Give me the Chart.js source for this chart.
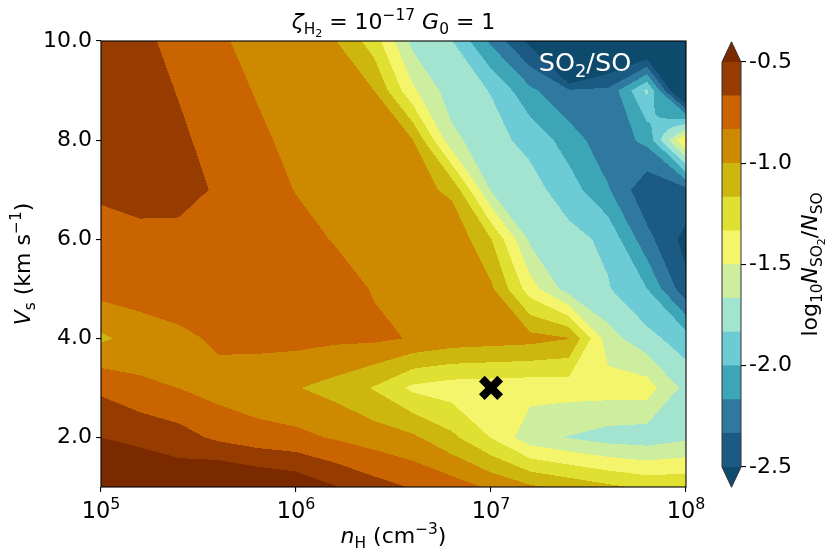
<!DOCTYPE html>
<html>
<head>
<meta charset="utf-8">
<script src="https://cdn.jsdelivr.net/npm/chart.js@4.4.1/dist/chart.umd.min.js"></script>
<style>
  html, body { margin: 0; padding: 0; background: #fff; }
  #wrap { position: relative; width: 830px; height: 556px; }
  #contour { position: absolute; left: 0; top: 0; }
  #colorbar { position: absolute; left: 700px; top: 0; }
</style>
</head>
<body>
<div id="wrap">
  <canvas id="contour" width="830" height="556"></canvas>
  <canvas id="colorbar" width="130" height="556"></canvas>
</div>
<script>
// model grid: log10 nH (columns) and shock velocity in km/s (rows)
var logNH = [5.0, 5.2, 5.4, 5.6, 5.8, 6.0, 6.2, 6.4, 6.6, 6.8, 7.0, 7.2, 7.4, 7.6, 7.8, 8.0];
var vShock = [1, 2, 3, 4, 5, 6, 7, 8, 9, 10];

// log10 N(SO2)/N(SO), one row per shock velocity
var ratioV1  = [-0.35, -0.38, -0.36, -0.26, -0.32, -0.37, -0.49, -0.60, -0.68, -0.75, -0.86, -0.97, -1.05, -1.13, -1.20, -1.20];
var ratioV2  = [-0.50, -0.53, -0.60, -0.70, -0.76, -0.79, -0.85, -0.91, -0.97, -1.13, -1.34, -1.60, -1.675, -1.74, -1.76, -1.70];
var ratioV3  = [-0.70, -0.80, -0.835, -0.90, -0.95, -0.99, -1.06, -1.18, -1.37, -1.42, -1.43, -1.44, -1.43, -1.42, -1.42, -1.72];
var ratioV4  = [-1.03, -0.93, -0.88, -0.80, -0.78, -0.78, -0.80, -0.80, -0.845, -0.90, -0.92, -0.94, -0.995, -1.60, -1.78, -1.92];
var ratioV5  = [-0.77, -0.75, -0.71, -0.70, -0.70, -0.72, -0.76, -0.845, -0.88, -0.92, -0.97, -1.42, -1.75, -1.82, -2.00, -2.45];
var ratioV6  = [-0.72, -0.70, -0.69, -0.70, -0.72, -0.77, -0.845, -0.88, -0.91, -0.86, -1.16, -1.70, -1.78, -1.87, -2.28, -2.56];
var ratioV7  = [-0.643, -0.62, -0.637, -0.676, -0.75, -0.84, -0.88, -0.92, -0.93, -1.04, -1.68, -1.77, -1.92, -2.15, -2.46, -2.38];
var ratioV8  = [-0.58, -0.60, -0.64, -0.72, -0.80, -0.88, -0.92, -0.96, -1.00, -1.62, -1.78, -1.88, -2.08, -2.28, -2.12, -1.30];
var ratioV9  = [-0.57, -0.60, -0.675, -0.76, -0.845, -0.90, -0.95, -1.00, -1.47, -1.76, -1.84, -2.13, -2.31, -2.30, -1.80, -2.95];
var ratioV10 = [-0.58, -0.63, -0.715, -0.80, -0.905, -0.95, -0.99, -1.25, -1.72, -1.83, -2.20, -2.55, -3.70, -2.90, -2.90, -3.00];
var ratioRows = [ratioV1, ratioV2, ratioV3, ratioV4, ratioV5, ratioV6, ratioV7, ratioV8, ratioV9, ratioV10];

// contour levels and colours (low to high)
var levels = [-2.5, -2.3333, -2.1667, -2.0, -1.8333, -1.6667, -1.5, -1.3333, -1.1667, -1.0, -0.8333, -0.6667, -0.5];
var levelColors = ['#1b5a83', '#2f78a0', '#3da6b6', '#6ccbd4', '#a2e4d0', '#ccee9e',
                   '#f5f56b', '#e0e032', '#cdb70f', '#cd8a00', '#c96400', '#963c00'];
var underColor = '#0e4a6c';
var overColor = '#7b2a00';

var xTicks = [1e5, 1e6, 1e7, 1e8];
var xTickExp = ['5', '6', '7', '8'];
var yTicks = [2, 4, 6, 8, 10];
var cbTicks = [-2.5, -2.0, -1.5, -1.0, -0.5];
var fiducial = [{x: 1e7, y: 3}];

var FONT = '"DejaVu Sans"';

function fontOf(size, italic) {
    return (italic ? 'italic ' : '') + size + 'px ' + FONT;
}

// parts: [text, size, italic, raise]
function drawRich(ctx, parts, x, y) {
    var total = 0;
    ctx.textAlign = 'left';
    ctx.textBaseline = 'alphabetic';
    parts.forEach(function (p) {
        ctx.font = fontOf(p[1], p[2]);
        p.w = ctx.measureText(p[0]).width;
        total += p.w;
    });
    var cx = x - total / 2;
    parts.forEach(function (p) {
        ctx.font = fontOf(p[1], p[2]);
        ctx.fillText(p[0], cx, y - (p[3] || 0));
        cx += p.w;
    });
}

function hexToRgb(h) {
    return [parseInt(h.substr(1, 2), 16), parseInt(h.substr(3, 2), 16), parseInt(h.substr(5, 2), 16)];
}

function locate(arr, v) {
    var k = 0;
    while (k < arr.length - 2 && v > arr[k + 1]) k++;
    var t = (v - arr[k]) / (arr[k + 1] - arr[k]);
    return {k: k, t: Math.max(0, Math.min(1, t))};
}

// marching squares: for each cell and level, a straight cut between edge crossings
function cellCuts(a, b, c, d) {
    // corners: a (0,0) b (1,0) c (0,1) d (1,1)
    var corners = [[0, 0, a], [1, 0, b], [1, 1, d], [0, 1, c]];
    return levels.map(function (L) {
        var pts = [];
        for (var e = 0; e < 4; e++) {
            var p = corners[e], q = corners[(e + 1) % 4];
            if ((p[2] > L) !== (q[2] > L)) {
                var t = (L - p[2]) / (q[2] - p[2]);
                pts.push([p[0] + t * (q[0] - p[0]), p[1] + t * (q[1] - p[1])]);
            }
        }
        if (pts.length === 0) return {mode: a > L ? 1 : 0};
        if (pts.length === 2) {
            var top = corners.reduce(function (m, k) { return k[2] > m[2] ? k : m; });
            var A = pts[1][0] - pts[0][0], B = pts[1][1] - pts[0][1];
            var s = A * (top[1] - pts[0][1]) - B * (top[0] - pts[0][0]);
            if (s !== 0) return {mode: 2, x0: pts[0][0], y0: pts[0][1], A: A, B: B, s: s > 0 ? 1 : -1};
        }
        return {mode: 3, L: L};
    });
}

var contourPlugin = {
    id: 'contourFill',
    beforeDatasetsDraw: function (chart) {
        var ctx = chart.ctx, a = chart.chartArea;
        var xs = chart.scales.x, ys = chart.scales.y;
        var dpr = chart.currentDevicePixelRatio || 1;
        var w = Math.round((a.right - a.left) * dpr);
        var h = Math.round((a.bottom - a.top) * dpr);
        var off = document.createElement('canvas');
        off.width = w;
        off.height = h;
        var octx = off.getContext('2d');
        var img = octx.createImageData(w, h);
        var palette = [underColor].concat(levelColors, [overColor]).map(hexToRgb);
        var cuts = [];
        for (var r = 0; r < vShock.length - 1; r++) {
            cuts.push([]);
            for (var q = 0; q < logNH.length - 1; q++) {
                cuts[r].push(cellCuts(ratioRows[r][q], ratioRows[r][q + 1], ratioRows[r + 1][q], ratioRows[r + 1][q + 1]));
            }
        }
        var cols = [], rows = [];
        for (var i = 0; i < w; i++) {
            cols.push(locate(logNH, Math.log10(xs.getValueForPixel(a.left + (i + 0.5) / dpr))));
        }
        for (var j = 0; j < h; j++) {
            rows.push(locate(vShock, ys.getValueForPixel(a.top + (j + 0.5) / dpr)));
        }
        for (j = 0; j < h; j++) {
            var ry = rows[j];
            var lo = ratioRows[ry.k], hi = ratioRows[ry.k + 1];
            for (i = 0; i < w; i++) {
                var cx = cols[i];
                var cell = cuts[ry.k][cx.k];
                var n = 0;
                for (var l = 0; l < cell.length; l++) {
                    var cut = cell[l];
                    if (cut.mode === 1) n++;
                    else if (cut.mode === 2) {
                        var f = cut.A * (ry.t - cut.y0) - cut.B * (cx.t - cut.x0);
                        if ((f > 0 ? 1 : -1) === cut.s) n++;
                    } else if (cut.mode === 3) {
                        var v = lo[cx.k] * (1 - cx.t) * (1 - ry.t) + lo[cx.k + 1] * cx.t * (1 - ry.t) +
                                hi[cx.k] * (1 - cx.t) * ry.t + hi[cx.k + 1] * cx.t * ry.t;
                        if (v > cut.L) n++;
                    }
                }
                var rgb = palette[n];
                var p = (j * w + i) * 4;
                img.data[p] = rgb[0];
                img.data[p + 1] = rgb[1];
                img.data[p + 2] = rgb[2];
                img.data[p + 3] = 255;
            }
        }
        octx.putImageData(img, 0, 0);
        ctx.save();
        ctx.imageSmoothingEnabled = false;
        ctx.drawImage(off, a.left, a.top, a.right - a.left, a.bottom - a.top);
        ctx.restore();
    },
    afterDatasetsDraw: function (chart) {
        var ctx = chart.ctx, a = chart.chartArea;
        ctx.save();
        ctx.fillStyle = '#fff';
        drawRich(ctx, [['SO', 25.5, false, 0], ['2', 17.8, false, -5.5], ['/SO', 25.5, false, 0]], 585, 71);
        ctx.strokeStyle = '#000';
        ctx.lineWidth = 1.1;
        ctx.strokeRect(a.left, a.top, a.right - a.left, a.bottom - a.top);
        ctx.restore();
    },
    afterDraw: function (chart) {
        var ctx = chart.ctx, a = chart.chartArea, xs = chart.scales.x;
        var midX = (a.left + a.right) / 2, midY = (a.top + a.bottom) / 2;
        ctx.save();
        ctx.fillStyle = '#000';
        // title
        drawRich(ctx, [['ζ', 22, true, 0], ['H', 15.4, false, -4.6], ['2', 11, false, -7.5],
                       [' = 10', 22, false, 0], ['−17', 15.4, false, 9.5], [' ', 22, false, 0],
                       ['G', 22, true, 0], ['0', 15.4, false, -4.6], [' = 1', 22, false, 0]], midX, 29);
        // x tick labels
        xTicks.forEach(function (v, k) {
            drawRich(ctx, [['10', 22.5, false, 0], [xTickExp[k], 15.8, false, 9]], xs.getPixelForValue(v), 518);
        });
        // x axis label
        drawRich(ctx, [['n', 22, true, 0], ['H', 15.4, false, -4.6], [' (cm', 22, false, 0],
                       ['−3', 15.4, false, 9.5], [')', 22, false, 0]], midX, 543);
        // y axis label
        ctx.translate(30, midY);
        ctx.rotate(-Math.PI / 2);
        drawRich(ctx, [['V', 22, true, 0], ['s', 15.4, false, -4.6], [' (km s', 22, false, 0],
                       ['−1', 15.4, false, 9.5], [')', 22, false, 0]], 0, 0);
        ctx.restore();
    }
};

new Chart(document.getElementById('contour'), {
    type: 'scatter',
    data: {
        datasets: [{
            data: fiducial,
            pointStyle: 'crossRot',
            pointRadius: 13,
            pointBorderWidth: 8,
            borderWidth: 8,
            pointBorderColor: '#000',
            borderColor: '#000',
            backgroundColor: '#000'
        }]
    },
    options: {
        responsive: false,
        animation: false,
        events: [],
        layout: {padding: {left: 0, right: 144, top: 41, bottom: 0}},
        plugins: {legend: {display: false}, tooltip: {enabled: false}},
        scales: {
            x: {
                type: 'logarithmic',
                min: 1e5,
                max: 1e8,
                afterBuildTicks: function (s) { s.ticks = xTicks.map(function (v) { return {value: v, major: true}; }); },
                afterFit: function (s) { s.height = 69; },
                grid: {drawOnChartArea: false, drawTicks: true, tickLength: 5, color: '#000', lineWidth: 1.1},
                border: {display: false},
                ticks: {display: false}
            },
            y: {
                type: 'linear',
                min: 1,
                max: 10,
                afterBuildTicks: function (s) { s.ticks = yTicks.map(function (v) { return {value: v}; }); },
                afterFit: function (s) { s.width = 101; },
                grid: {drawOnChartArea: false, drawTicks: true, tickLength: 5, color: '#000', lineWidth: 1.1},
                border: {display: false},
                ticks: {
                    color: '#000',
                    padding: 4,
                    font: {family: 'DejaVu Sans', size: 22},
                    callback: function (v) { return Number(v).toFixed(1); }
                }
            }
        }
    },
    plugins: [contourPlugin]
});

var cbExtend = 0.1;
var colorbarPlugin = {
    id: 'colorbarExtends',
    afterDatasetsDraw: function (chart) {
        var ctx = chart.ctx, a = chart.chartArea, ys = chart.scales.y;
        var top = ys.getPixelForValue(levels[levels.length - 1]);
        var topTip = ys.getPixelForValue(levels[levels.length - 1] + cbExtend);
        var bot = ys.getPixelForValue(levels[0]);
        var botTip = ys.getPixelForValue(levels[0] - cbExtend);
        var cx = (a.left + a.right) / 2;
        ctx.save();
        ctx.fillStyle = overColor;
        ctx.beginPath();
        ctx.moveTo(a.left, top); ctx.lineTo(cx, topTip); ctx.lineTo(a.right, top);
        ctx.closePath(); ctx.fill();
        ctx.fillStyle = underColor;
        ctx.beginPath();
        ctx.moveTo(a.left, bot); ctx.lineTo(cx, botTip); ctx.lineTo(a.right, bot);
        ctx.closePath(); ctx.fill();
        ctx.strokeStyle = '#333';
        ctx.lineWidth = 1;
        ctx.beginPath();
        ctx.moveTo(a.left, top); ctx.lineTo(cx, topTip); ctx.lineTo(a.right, top);
        ctx.lineTo(a.right, bot); ctx.lineTo(cx, botTip); ctx.lineTo(a.left, bot);
        ctx.closePath(); ctx.stroke();
        ctx.restore();
    },
    afterDraw: function (chart) {
        var ctx = chart.ctx, a = chart.chartArea;
        ctx.save();
        ctx.fillStyle = '#000';
        ctx.translate(117, (a.top + a.bottom) / 2);
        ctx.rotate(-Math.PI / 2);
        drawRich(ctx, [['log', 22, false, 0], ['10', 15.4, false, -4.6], ['N', 22, true, 0],
                       ['SO', 15.4, false, -4.6], ['2', 11, false, -7.5], ['/', 22, false, 0],
                       ['N', 22, true, 0], ['SO', 15.4, false, -4.6]], 0, 0);
        ctx.restore();
    }
};

new Chart(document.getElementById('colorbar'), {
    type: 'bar',
    data: {
        labels: [''],
        datasets: levelColors.map(function (c, k) {
            return {
                data: [[levels[k], levels[k + 1]]],
                backgroundColor: c,
                borderWidth: 0,
                barPercentage: 1,
                categoryPercentage: 1,
                grouped: false
            };
        })
    },
    options: {
        responsive: false,
        animation: false,
        events: [],
        layout: {padding: {left: 22, right: 0, top: 62, bottom: 89}},
        plugins: {legend: {display: false}, tooltip: {enabled: false}},
        scales: {
            x: {display: false},
            y: {
                position: 'right',
                min: -2.5,
                max: -0.5,
                afterBuildTicks: function (s) { s.ticks = cbTicks.map(function (v) { return {value: v}; }); },
                afterFit: function (s) { s.width = 89; },
                grid: {drawOnChartArea: false, drawTicks: true, tickLength: 5, color: '#000', lineWidth: 1.1},
                border: {display: false},
                ticks: {
                    color: '#000',
                    padding: 3,
                    font: {family: 'DejaVu Sans', size: 22},
                    callback: function (v) { return Number(v).toFixed(1); }
                }
            }
        }
    },
    plugins: [colorbarPlugin]
});
</script>
</body>
</html>
